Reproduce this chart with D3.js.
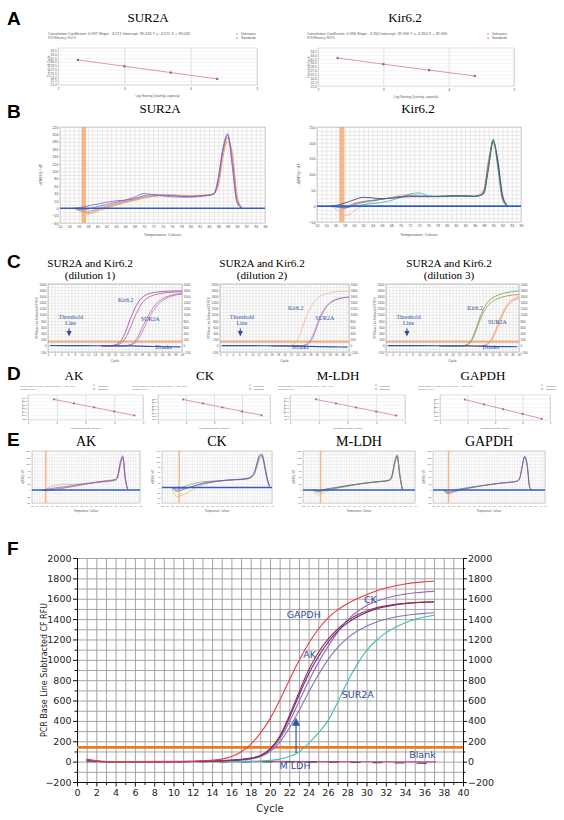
<!DOCTYPE html>
<html><head><meta charset="utf-8">
<script src="https://cdn.jsdelivr.net/npm/d3@7"></script>
<style>html,body{margin:0;padding:0;background:#fff}svg{display:block}</style>
</head><body>
<script>
// ================= DATA =================
// Panel A – standard curves
const aLogQty = [2.3, 3.0, 3.7, 4.4];
const aSur2aCt = [30.8, 28.3, 25.8, 23.3];
const aKir62Ct = [31.9, 29.5, 27.2, 24.9];
const aXTicks = [2, 3, 4, 5];
const aYTicks = [21, 22.5, 24, 25.5, 27, 28.5, 30, 31.5, 33, 34.5];
const aSur2aHeader = ['Correlation Coefficient: 0.997   Slope: -3.571   Intercept: 39.033   Y = -3.571 X + 39.033', 'PCR Efficiency: 90.6 %'];
const aKir62Header = ['Correlation Coefficient: 0.996   Slope: -3.350   Intercept: 39.596   Y = -3.350 X + 39.596', 'PCR Efficiency: 98.8 %'];
const stdLegend = ['Unknowns', 'Standards'];

// Panel B – melt curves
const bSurTemp = [55,56,57,58,59,60,62,64,66,68,70,72,74,76,78,80,82,84,85,86,87,88,89,90,91];
const bSurPurple = [0,1,3,6,9,11,16,20,22,26,34,37,36,34,32,31,33,35,38,80,160,198,110,15,1];
const bSurPink   = [0,-3,-6,-8,-6,-2,6,13,19,25,31,34,35,35,34,33,34,36,38,70,150,190,135,25,2];
const bSurOrange = [0,-5,-10,-16,-13,-8,0,8,15,21,27,32,35,36,35,34,35,37,40,60,140,180,150,35,3];
const bSurSlate  = [0,-2,-3,-2,1,4,10,16,22,30,40,36,33,31,30,30,32,35,38,85,165,202,120,18,1];
const bSurOlive  = [0,-6,-10,-12,-9,-4,3,11,17,23,29,33,35,35,34,33,34,36,39,75,155,192,140,28,2];
const bKirTemp = [55,56,57,58,59,60,62,64,66,68,70,72,74,76,78,80,82,84,86,87,88,89,90,91,92,93];
const bKirGreen = [0,0,-3,-6,-2,4,12,18,22,26,30,33,32,31,31,32,33,32,31,33,45,130,212,120,20,1];
const bKirNavy  = [0,2,5,10,15,20,28,26,24,25,28,30,30,30,31,32,33,32,31,33,40,120,205,140,30,2];
const bKirPink  = [0,-8,-18,-30,-26,-15,2,14,22,28,34,38,36,33,32,32,33,33,32,38,55,150,195,150,40,3];
const bKirRed   = [0,0,-2,-4,2,8,15,18,22,26,30,32,31,30,30,31,32,32,31,35,50,140,205,135,32,2];
const bKirCyan  = [0,-3,-5,-6,-3,0,5,8,12,18,28,38,42,33,30,30,31,32,31,33,42,125,208,145,38,3];
const bSurYTicks = [-40,-20,0,20,40,60,80,100,120,140,160,180,200,220];
const bKirYTicks = [-50,0,50,100,150,200,250];
const meltXTicks = [52,54,56,58,60,62,64,66,68,70,72,74,76,78,80,82,84,86,88,90,92,94,96];

// Panel C – amplification curves (three dilutions)
const cCycles = [16,17,18,19,20,21,22,23,24,25,26,27,28,29,30,31,32,33,34,35,36,37,38,39,40];
const c1Kir62a = [0,0,3,10,30,80,200,420,700,980,1230,1420,1550,1630,1680,1710,1730,1745,1755,1762,1768,1772,1775,1777,1778];
const c1Kir62b = [0,0,0,5,15,40,100,230,440,700,960,1190,1370,1490,1570,1620,1655,1680,1700,1715,1725,1732,1738,1742,1745];
const c1Sur2aA = [0,0,0,0,0,0,0,5,20,60,150,330,560,780,990,1170,1320,1430,1510,1570,1610,1640,1660,1675,1685];
const c1Sur2aB = [0,0,0,0,0,0,0,0,10,35,95,220,420,650,870,1060,1220,1350,1450,1520,1570,1610,1640,1660,1675];
const c2Kir62  = [0,0,0,0,0,5,20,70,200,430,720,1000,1230,1400,1520,1600,1650,1690,1715,1735,1748,1757,1763,1767,1770];
const c2Sur2aA = [0,0,0,0,0,0,0,0,0,0,10,40,130,320,600,880,1100,1260,1370,1440,1490,1525,1550,1565,1575];
const c2Sur2aB = [0,0,0,0,0,0,0,0,0,0,20,70,190,400,680,940,1140,1290,1390,1460,1505,1540,1560,1575,1585];
const c3Kir62a = [0,0,0,0,0,0,0,5,25,90,260,540,850,1120,1320,1460,1550,1610,1655,1690,1715,1735,1752,1765,1775];
const c3Kir62b = [0,0,0,0,0,0,0,3,18,70,210,460,750,1010,1200,1340,1430,1500,1545,1580,1605,1625,1640,1650,1655];
const c3Sur2aA = [0,0,0,0,0,0,0,0,0,0,0,0,0,10,40,120,280,520,800,1060,1260,1400,1490,1550,1590];
const c3Sur2aB = [0,0,0,0,0,0,0,0,0,0,0,0,0,5,25,90,230,450,720,980,1190,1340,1440,1500,1540];
const cBlankCycles = [0.5,10,20,25,30,35,39.5];
const c1Blank = [10,5,0,-5,-20,-30,-35];
const c2Blank = [8,4,0,-10,-25,-35,-40];
const c3Blank = [8,4,0,-5,-15,-25,-30];
const cThreshold = 135;
const ampYTicks = [-200,0,200,400,600,800,1000,1200,1400,1600,1800,2000];
const ampXTicks = [0,2,4,6,8,10,12,14,16,18,20,22,24,26,28,30,32,34,36,38,40];

// Panel D – standard curves of the reference genes
const dLogQty = [1.9, 2.6, 3.3, 4.0, 4.7];
const dAkCt    = [33.0, 30.7, 28.4, 26.1, 23.8];
const dCkCt    = [32.4, 30.1, 27.8, 25.5, 23.2];
const dMldhCt  = [34.0, 31.7, 29.4, 27.1, 24.8];
const dGapdhCt = [30.6, 28.3, 26.0, 23.7, 21.4];
const dXTicks = [1, 2, 3, 4, 5];
const dAkHeader    = ['Correlation Coefficient: 0.998  Slope: -3.302  Intercept: 39.270  Y = -3.302 X + 39.270', 'PCR Efficiency: 100.8 %'];
const dCkHeader    = ['Correlation Coefficient: 0.997  Slope: -3.318  Intercept: 38.710  Y = -3.318 X + 38.710', 'PCR Efficiency: 100.2 %'];
const dMldhHeader  = ['Correlation Coefficient: 0.999  Slope: -3.296  Intercept: 40.260  Y = -3.296 X + 40.260', 'PCR Efficiency: 101.1 %'];
const dGapdhHeader = ['Correlation Coefficient: 0.998  Slope: -3.310  Intercept: 36.890  Y = -3.310 X + 36.890', 'PCR Efficiency: 100.5 %'];
const dLegend = ['Unknown', 'Standard'];

// Panel E – melt curves of the reference genes
const eAkTemp = [56,58,60,63,66,69,72,75,78,81,84,86,87,88,89,90,91];
const eAkPurple = [0,3,6,10,14,18,22,26,30,33,36,40,55,105,132,45,2];
const eAkPink   = [0,-2,2,6,10,15,20,25,30,34,38,42,60,110,128,50,3];
const eAkOlive  = [-3,5,15,20,22,22,24,26,28,30,33,36,50,95,120,40,2];
const eAkBlue   = [0,-3,0,4,9,14,19,24,29,33,36,39,52,100,125,42,2];
const eCkTemp = [56,58,60,63,66,69,72,75,78,81,84,86,88,89,90,91,92,93,94,95];
const eCkPurple = [0,-15,-10,0,10,18,22,25,28,30,32,35,45,60,95,125,128,90,40,5];
const eCkYellow = [-5,-35,-30,-15,0,12,20,25,28,30,32,34,42,55,85,115,120,85,35,5];
const eCkGreen  = [0,-10,0,10,18,22,24,26,28,29,30,32,40,52,80,110,118,80,30,3];
const eCkBlue   = [0,-5,-5,0,8,15,20,24,27,30,31,33,42,58,90,120,125,85,35,4];
const eMldhTemp = [56,58,60,63,66,69,72,75,78,81,84,86,87,88,89,90,91];
const eMldhGreen  = [0,-5,0,5,10,15,20,25,28,31,34,38,55,105,135,60,2];
const eMldhPurple = [0,-3,2,7,12,17,21,25,29,32,35,39,58,110,132,55,2];
const eMldhRed    = [0,-8,-3,3,9,14,19,24,28,31,34,37,52,100,128,65,3];
const eMldhYellow = [-5,-20,-10,0,8,14,19,24,28,31,33,37,50,98,125,60,3];
const eGapdhTemp = [56,58,60,63,66,69,72,75,78,81,84,85,86,87,88,89,90,91];
const eGapdhPurple = [0,-10,-5,3,8,13,18,22,26,29,32,35,45,90,130,95,10,0];
const eGapdhGreen  = [0,-5,0,5,10,14,18,22,26,29,32,34,42,85,128,100,12,0];
const eGapdhRed    = [0,-15,-8,0,6,12,17,21,25,28,31,34,44,88,125,90,8,0];

// Panel F – amplification curves
const fCycles = [1,2,3,4,5,6,7,8,9,10,11,12,13,14,15,16,17,18,19,20,21,22,23,24,25,26,27,28,29,30,31,32,33,34,35,36,37];
const fGapdh = [25,8,2,0,0,0,0,0,0,0,2,4,8,14,25,50,95,170,280,420,600,800,990,1160,1300,1410,1490,1550,1600,1640,1675,1705,1728,1745,1758,1766,1772];
const fAk    = [20,5,0,0,0,0,0,0,0,0,0,2,4,6,10,15,22,35,60,120,250,450,680,900,1070,1200,1300,1380,1440,1480,1510,1530,1545,1555,1562,1567,1571];
const fDark  = [18,4,0,0,0,0,0,0,0,0,0,1,3,5,8,13,20,32,58,125,240,430,650,860,1030,1170,1280,1360,1420,1465,1500,1522,1540,1552,1560,1565,1568];
const fCk    = [15,3,0,0,0,0,0,0,0,0,0,1,3,5,8,12,18,30,55,110,220,390,590,790,970,1130,1270,1390,1470,1530,1575,1605,1630,1645,1658,1666,1672];
const fMldh  = [10,2,0,0,0,0,0,0,0,0,0,1,2,4,7,10,15,25,48,100,190,330,500,680,850,1000,1120,1210,1280,1330,1370,1398,1420,1436,1448,1456,1462];
const fSur2a = [20,5,0,0,0,0,0,0,0,0,0,0,0,0,0,0,0,0,5,12,25,50,95,180,280,400,580,780,950,1090,1190,1265,1320,1365,1395,1420,1438];
const fBlankPinkCycles = [5.5,10,15,20,25,30,35,37.2];
const fBlankPink = [0,2,3,2,1,-1,-2,-2];
const fBlankGrayCycles = [1,5.5,26,29,32,35,37.2];
const fBlankGray = [0,0,-5,-8,-12,-15,-18];
const fThreshold = 140;
const fYTicks = [-200,0,200,400,600,800,1000,1200,1400,1600,1800,2000];
const fXTicks = [0,2,4,6,8,10,12,14,16,18,20,22,24,26,28,30,32,34,36,38,40];
const fLabels = ['GAPDH','CK','AK','SUR2A','M LDH','Blank'];
const fLabelCycle = [23.5, 30.4, 24.1, 29.1, 22.6, 35.8];
const fLabelValue = [1445, 1595, 1050, 660, -35, 70];
const fArrowCycle = 22.7, fArrowFrom = 85, fArrowTo = 430;

// ================= DRAWING =================
const SERIF = "'Liberation Serif','Times New Roman',serif";
const SANS = "'Liberation Sans',Arial,sans-serif";
const VERD = "'DejaVu Sans',Verdana,sans-serif";
const svg = d3.select('body').append('svg').attr('width', 564).attr('height', 820);
svg.append('rect').attr('width', 564).attr('height', 820).attr('fill', '#fff');

function txt(g, x, y, s, o = {}) {
  const t = g.append('text').attr('x', x).attr('y', y).text(s)
    .attr('font-family', o.ff || SERIF).attr('font-size', o.fs || 13)
    .attr('fill', o.fill || '#000').attr('text-anchor', o.anchor || 'middle');
  if (o.fw) t.attr('font-weight', o.fw);
  if (o.len) t.attr('textLength', o.len).attr('lengthAdjust', 'spacingAndGlyphs');
  if (o.rot) t.attr('transform', `rotate(${o.rot},${x},${y})`);
  return t;
}
function gridX(g, x, vals, yTop, yBot, color, sw) {
  const a = g.append('g').attr('transform', `translate(0,${yBot})`)
    .call(d3.axisBottom(x).tickValues(vals).tickSize(-(yBot - yTop)).tickFormat(''));
  a.select('.domain').remove();
  a.selectAll('line').attr('stroke', color).attr('stroke-width', sw);
}
function gridY(g, y, vals, xL, xR, color, sw) {
  const a = g.append('g').attr('transform', `translate(${xL},0)`)
    .call(d3.axisLeft(y).tickValues(vals).tickSize(-(xR - xL)).tickFormat(''));
  a.select('.domain').remove();
  a.selectAll('line').attr('stroke', color).attr('stroke-width', sw);
}
function labelsX(g, x, vals, yPos, fs, ff, fill, fmt) {
  const a = g.append('g').attr('transform', `translate(0,${yPos})`)
    .call(d3.axisBottom(x).tickValues(vals).tickSize(0).tickPadding(0).tickFormat(fmt || d3.format('d')));
  a.select('.domain').remove();
  a.selectAll('text').attr('font-size', fs).attr('font-family', ff).attr('fill', fill);
}
function labelsY(g, y, vals, xPos, side, fs, ff, fill, fmt) {
  const gen = side === 'left' ? d3.axisLeft(y) : d3.axisRight(y);
  const a = g.append('g').attr('transform', `translate(${xPos},0)`)
    .call(gen.tickValues(vals).tickSize(0).tickPadding(0).tickFormat(fmt || d3.format('d')));
  a.select('.domain').remove();
  a.selectAll('text').attr('font-size', fs).attr('font-family', ff).attr('fill', fill);
}
function frame(g, x0, y0, x1, y1, color, sw) {
  g.append('rect').attr('x', x0).attr('y', y0).attr('width', x1 - x0).attr('height', y1 - y0)
    .attr('fill', 'none').attr('stroke', color).attr('stroke-width', sw);
}

// ---------- standard curve ----------
function stdCurve(o) {
  const g = svg.append('g');
  const x = d3.scaleLinear().domain(o.xDom).range([o.x0, o.x1]);
  const y = d3.scaleLinear().domain(o.yDom).range([o.y1, o.y0]);
  o.head.forEach((t, i) => txt(g, o.hx, o.hy + i * o.hdy, t, {ff: SANS, fs: o.hfs, anchor: 'start', fill: '#555', len: o.hlen[i]}));
  o.leg.forEach((t, i) => {
    const ly = o.hy + i * o.hdy;
    if (i === 0) {
      g.append('path').attr('d', `M${o.lx - 0.9},${ly - 2.1}l1.8,1.8M${o.lx + 0.9},${ly - 2.1}l-1.8,1.8`).attr('stroke', '#d44').attr('stroke-width', 0.4);
    } else {
      g.append('circle').attr('cx', o.lx).attr('cy', ly - 1.2).attr('r', 0.8).attr('fill', 'none').attr('stroke', '#d44').attr('stroke-width', 0.4);
    }
    txt(g, o.lx + 4, ly, t, {ff: SANS, fs: o.lfs || o.hfs, anchor: 'start', fill: '#555', len: o.llen});
  });
  g.append('rect').attr('x', o.x0).attr('y', o.y0).attr('width', o.x1 - o.x0).attr('height', o.y1 - o.y0).attr('fill', '#fff');
  gridY(g, y, o.yTicks, o.x0, o.x1, '#e6e6e6', 0.4);
  gridX(g, x, o.xTicks, o.y0, o.y1, '#c6c6c6', 0.5);
  frame(g, o.x0, o.y0, o.x1, o.y1, '#c0c0c0', 0.5);
  labelsY(g, y, o.yTicks, o.x0 - 1.2, 'left', o.tfs, SANS, '#555', d3.format('.1f'));
  labelsX(g, x, o.xTicks, o.y1 + 2.5, o.tfs + 0.3, SANS, '#555', d3.format('d'));
  txt(g, (o.x0 + o.x1) / 2, o.xtY, o.xTitle, {ff: SANS, fs: o.tfs, fill: '#555', len: o.xlen});
  txt(g, o.ytX, (o.y0 + o.y1) / 2, o.yTitle, {ff: SANS, fs: o.tfs, fill: '#555', rot: -90, len: o.ylen});
  const line = d3.line().x((d, i) => x(o.xs[i])).y(d => y(d));
  g.append('path').attr('d', line(o.ys)).attr('fill', 'none').attr('stroke', '#e06a6a').attr('stroke-width', 0.7);
  g.selectAll(null).data(o.ys).join('rect')
    .attr('x', (d, i) => x(o.xs[i]) - o.pt / 2).attr('y', d => y(d) - o.pt / 2)
    .attr('width', o.pt).attr('height', o.pt).attr('fill', '#6b5a80').attr('opacity', 0.85);
}

// ---------- melt curve ----------
function melt(o) {
  const g = svg.append('g');
  const x = d3.scaleLinear().domain([52, 96]).range([o.x0, o.x1]);
  const y = d3.scaleLinear().domain(o.yDom).range([o.y1, o.y0]);
  g.append('rect').attr('x', o.x0).attr('y', o.y0).attr('width', o.x1 - o.x0).attr('height', o.y1 - o.y0).attr('fill', '#fff');
  gridX(g, x, d3.range(52, 96.01, 1), o.y0, o.y1, o.gc, o.gw);
  gridY(g, y, d3.range(o.yDom[0], o.yDom[1] + 0.01, o.gstep), o.x0, o.x1, o.gc, o.gw);
  frame(g, o.x0, o.y0, o.x1, o.y1, '#a8a8a8', 0.5);
  g.append('rect').attr('x', x(o.band[0])).attr('y', o.y0).attr('width', x(o.band[1]) - x(o.band[0]))
    .attr('height', o.y1 - o.y0).attr('fill', '#f4a366').attr('opacity', 0.75);
  const line = d3.line().x((d, i) => x(o.temps[i])).y(d => y(d)).curve(d3.curveMonotoneX);
  o.series.forEach(s => g.append('path').attr('d', line(s.v)).attr('fill', 'none')
    .attr('stroke', s.c).attr('stroke-width', o.lw).attr('opacity', 0.9));
  g.append('line').attr('x1', o.x0).attr('x2', o.x1).attr('y1', y(0)).attr('y2', y(0))
    .attr('stroke', '#2f5ec4').attr('stroke-width', o.bw);
  labelsY(g, y, o.yTicks, o.x0 - 1.5, 'left', o.tfs, SANS, '#555');
  labelsX(g, x, meltXTicks, o.y1 + 2, o.tfs * 0.95, SANS, '#555');
  txt(g, (o.x0 + o.x1) / 2, o.xtY, 'Temperature, Celsius', {ff: SANS, fs: o.tfs * 1.05, fill: '#555'});
  txt(g, o.ytX, (o.y0 + o.y1) / 2, '-d(RFU) / dT', {ff: SANS, fs: o.tfs * 1.05, fill: '#555', rot: -90});
}

// ---------- amplification (panel C) ----------
function amp(o) {
  const g = svg.append('g');
  const x = d3.scaleLinear().domain([0, 40]).range([o.x0, o.x1]);
  const y = d3.scaleLinear().domain([-200, 2000]).range([o.y1, o.y0]);
  g.append('rect').attr('x', o.x0).attr('y', o.y0).attr('width', o.x1 - o.x0).attr('height', o.y1 - o.y0).attr('fill', '#fff');
  gridX(g, x, d3.range(0, 40.01, 1), o.y0, o.y1, '#d2d2d2', 0.4);
  gridY(g, y, d3.range(-200, 2000.1, 100), o.x0, o.x1, '#d2d2d2', 0.4);
  frame(g, o.x0, o.y0, o.x1, o.y1, '#888', 0.5);
  g.append('line').attr('x1', o.x0).attr('x2', o.x1).attr('y1', y(cThreshold)).attr('y2', y(cThreshold))
    .attr('stroke', '#f4a26e').attr('stroke-width', 1.6);
  const line = d3.line().x((d, i) => x(cCycles[i])).y(d => y(d)).curve(d3.curveMonotoneX);
  o.series.forEach(s => g.append('path').attr('d', line(s.v)).attr('fill', 'none').attr('stroke', s.c).attr('stroke-width', 0.8));
  const bl = d3.line().x((d, i) => x(cBlankCycles[i])).y(d => y(d)).curve(d3.curveMonotoneX);
  g.append('path').attr('d', bl(o.blank)).attr('fill', 'none').attr('stroke', '#2858a8').attr('stroke-width', 1.2);
  labelsY(g, y, ampYTicks, o.x0 - 1.5, 'left', 3.2, SANS, '#555');
  labelsY(g, y, ampYTicks, o.x1 + 1.5, 'right', 3.2, SANS, '#555');
  labelsX(g, x, ampXTicks, o.y1 + 2, 2.9, SANS, '#555');
  txt(g, (o.x0 + o.x1) / 2, o.y1 + 10, 'Cycle', {ff: SANS, fs: 3.4, fill: '#555'});
  txt(g, o.x0 - 10, (o.y0 + o.y1) / 2, 'PCR Base Line Subtracted CF RFU', {ff: SANS, fs: 2.6, fill: '#555', rot: -90});
  const lc = '#3050a0';
  txt(g, x(o.kir[0]), y(o.kir[1]), 'Kir6.2', {fs: 6, fill: lc});
  txt(g, x(o.sur[0]), y(o.sur[1]), 'SUR2A', {fs: 6, fill: lc});
  txt(g, x(o.blk[0]), y(o.blk[1]), 'Blanks', {fs: 6, fill: lc});
  txt(g, x(6.8), y(880), 'Threshold', {fs: 6, fill: lc});
  txt(g, x(6.8), y(680), 'Line', {fs: 6, fill: lc});
  const ax = x(6.3), ay = y(300);
  g.append('path').attr('d', `M${ax - 2.6},${ay - 5.5}L${ax + 2.6},${ay - 5.5}L${ax},${ay}Z`).attr('fill', '#2c4fa8');
  g.append('line').attr('x1', ax).attr('x2', ax).attr('y1', ay - 8).attr('y2', ay - 5).attr('stroke', '#2c4fa8').attr('stroke-width', 1.2);
}

// ================= Panel letters & titles =================
const letters = [['A', 25], ['B', 118], ['C', 268], ['D', 380], ['E', 446], ['F', 555]];
letters.forEach(l => txt(svg, 7, l[1], l[0], {ff: SANS, fs: 19, fw: 'bold', anchor: 'start'}));

// ---- A ----
txt(svg, 148, 22, 'SUR2A', {fs: 13});
txt(svg, 405, 22, 'Kir6.2', {fs: 13});
stdCurve({x0: 58, x1: 257, y0: 48, y1: 85, xDom: [2, 5], yDom: [20.9, 35.5], xTicks: aXTicks, yTicks: aYTicks,
  xs: aLogQty, ys: aSur2aCt, head: aSur2aHeader, hx: 48, hy: 35, hdy: 4.4, hfs: 3.4, hlen: [142, 28],
  leg: stdLegend, lx: 237, llen: 15, tfs: 3.2, xtY: 97, ytX: 50, xTitle: 'Log Starting Quantity, copies/µl',
  yTitle: 'Threshold Cycle', xlen: 44, ylen: 22, pt: 2.2});
stdCurve({x0: 318, x1: 514, y0: 48, y1: 86, xDom: [2, 5], yDom: [21.0, 35.8], xTicks: aXTicks, yTicks: aYTicks,
  xs: aLogQty, ys: aKir62Ct, head: aKir62Header, hx: 307, hy: 35, hdy: 4.4, hfs: 3.4, hlen: [140, 28],
  leg: stdLegend, lx: 488, llen: 15, tfs: 3.2, xtY: 98, ytX: 310, xTitle: 'Log Starting Quantity, copies/µl',
  yTitle: 'Threshold Cycle', xlen: 44, ylen: 22, pt: 2.2});

// ---- B ----
txt(svg, 160, 113, 'SUR2A', {fs: 13});
txt(svg, 418, 113, 'Kir6.2', {fs: 13});
melt({x0: 60, x1: 265, y0: 127, y1: 223, yDom: [-40, 220], gstep: 10, yTicks: bSurYTicks, gc: '#d6cdd0', gw: 0.45,
  band: [56.6, 57.6], temps: bSurTemp, lw: 0.9, bw: 1.6, tfs: 3.8, xtY: 236, ytX: 42,
  series: [{v: bSurOlive, c: '#a0a060'}, {v: bSurOrange, c: '#e8a040'}, {v: bSurPink, c: '#e48aa8'},
           {v: bSurSlate, c: '#6878b8'}, {v: bSurPurple, c: '#8a58c0'}]});
melt({x0: 317, x1: 521, y0: 127, y1: 222, yDom: [-50, 250], gstep: 12.5, yTicks: bKirYTicks, gc: '#d6cdd0', gw: 0.45,
  band: [56.8, 57.9], temps: bKirTemp, lw: 0.9, bw: 1.6, tfs: 3.8, xtY: 236, ytX: 300,
  series: [{v: bKirPink, c: '#f2a8c0'}, {v: bKirCyan, c: '#40a8d8'}, {v: bKirRed, c: '#c84848'},
           {v: bKirNavy, c: '#303088'}, {v: bKirGreen, c: '#2f9e6a'}]});

// ---- C ----
const cTitles = [[90, 'dilution 1'], [262, 'dilution 2'], [449, 'dilution 3']];
cTitles.forEach(t => { txt(svg, t[0], 267, 'SUR2A and Kir6.2', {fs: 11.2}); txt(svg, t[0], 279, '(' + t[1] + ')', {fs: 11.2}); });
amp({x0: 48, x1: 182, y0: 284, y1: 352, blank: c1Blank, kir: [23.2, 1420], sur: [30.5, 800], blk: [34.5, -110],
  series: [{v: c1Sur2aB, c: '#d070a8'}, {v: c1Sur2aA, c: '#9c6cc4'}, {v: c1Kir62b, c: '#c4508c'}, {v: c1Kir62a, c: '#8a4ca8'}]});
amp({x0: 220, x1: 349, y0: 284, y1: 352, blank: c2Blank, kir: [23.5, 1150], sur: [32.5, 850], blk: [25, -110],
  series: [{v: c2Sur2aB, c: '#dc92bc'}, {v: c2Sur2aA, c: '#8c6cb4'}, {v: c2Kir62, c: '#f2b490'}]});
amp({x0: 386, x1: 519, y0: 284, y1: 352, blank: c3Blank, kir: [26.8, 1150], sur: [33.5, 700], blk: [31.5, -110],
  series: [{v: c3Sur2aB, c: '#f29090'}, {v: c3Sur2aA, c: '#f2a448'}, {v: c3Kir62b, c: '#b08458'}, {v: c3Kir62a, c: '#58a848'}]});

// ---- D ----
const dDefs = [
  {t: 'AK', tc: 74, x0: 28, x1: 143, ys: dAkCt, yDom: [21.2, 35.5], head: dAkHeader, hx: 20, lx: 94},
  {t: 'CK', tc: 205, x0: 158, x1: 270, ys: dCkCt, yDom: [20.5, 35.0], head: dCkHeader, hx: 132, lx: 250},
  {t: 'M-LDH', tc: 338, x0: 290, x1: 405, ys: dMldhCt, yDom: [22.3, 36.5], head: dMldhHeader, hx: 278, lx: 376},
  {t: 'GAPDH', tc: 483, x0: 440, x1: 550, ys: dGapdhCt, yDom: [20.8, 32.8], head: dGapdhHeader, hx: 418, lx: 542}
];
dDefs.forEach(d => {
  txt(svg, d.tc, 380, d.t, {fs: 13});
  stdCurve({x0: d.x0, x1: d.x1, y0: 395, y1: 420, xDom: [1, 5], yDom: d.yDom, xTicks: dXTicks,
    yTicks: d3.range(Math.ceil(d.yDom[0]), d.yDom[1], 2), xs: dLogQty, ys: d.ys, head: d.head, hx: d.hx, hy: 386.5,
    hdy: 3.6, hfs: 1.5, lfs: 2.3, hlen: [55, 16], leg: dLegend, lx: d.lx, llen: 10, tfs: 2.4, xtY: 429, ytX: d.x0 - 5,
    xTitle: 'Log Starting Quantity, copies/µl', yTitle: 'Threshold Cycle', xlen: 30, ylen: 16, pt: 1.8});
});

// ---- E ----
const eDefs = [
  {t: 'AK', tc: 86, x0: 32, x1: 140, temps: eAkTemp, yDom: [-50, 150], yTicks: [-50,-25,0,25,50,75,100,125,150], band: [57.3, 57.9],
   series: [{v: eAkOlive, c: '#b8b860'}, {v: eAkBlue, c: '#5a78c8'}, {v: eAkPink, c: '#e070a0'}, {v: eAkPurple, c: '#8050b8'}]},
  {t: 'CK', tc: 217, x0: 162, x1: 272, temps: eCkTemp, yDom: [-60, 140], yTicks: [-60,-40,-20,0,20,40,60,80,100,120,140], band: [58.6, 59.2],
   series: [{v: eCkYellow, c: '#e8b040'}, {v: eCkGreen, c: '#58a878'}, {v: eCkBlue, c: '#5a70c0'}, {v: eCkPurple, c: '#8048b0'}]},
  {t: 'M-LDH', tc: 359, x0: 303, x1: 415, temps: eMldhTemp, yDom: [-50, 150], yTicks: [-50,-25,0,25,50,75,100,125,150], band: [58.6, 59.2],
   series: [{v: eMldhYellow, c: '#d8c050'}, {v: eMldhRed, c: '#d06070'}, {v: eMldhPurple, c: '#7050b0'}, {v: eMldhGreen, c: '#3c9a6c'}]},
  {t: 'GAPDH', tc: 489, x0: 433, x1: 545, temps: eGapdhTemp, yDom: [-50, 150], yTicks: [-50,-25,0,25,50,75,100,125,150], band: [57.8, 58.4],
   series: [{v: eGapdhRed, c: '#d06070'}, {v: eGapdhGreen, c: '#4ca070'}, {v: eGapdhPurple, c: '#7048b0'}]}
];
eDefs.forEach(e => {
  txt(svg, e.tc, 446, e.t, {fs: 14});
  melt({x0: e.x0, x1: e.x1, y0: 451, y1: 503, yDom: e.yDom, gstep: 12.5, yTicks: e.yTicks, gc: '#ddd5d8', gw: 0.35,
    band: e.band, temps: e.temps, lw: 0.75, bw: 1.5, tfs: 2.5, xtY: 512, ytX: e.x0 - 8, series: e.series});
});

// ---- F ----
(function () {
  const g = svg.append('g');
  const x = d3.scaleLinear().domain([0, 40]).range([77, 463]);
  const y = d3.scaleLinear().domain([-200, 2000]).range([782, 558]);
  gridX(g, x, d3.range(0, 40.01, 1), 558, 782, '#9a9a9a', 0.9);
  gridY(g, y, d3.range(-200, 2000.1, 100), 77, 463, '#9a9a9a', 0.9);
  const styleAx = (a) => { a.selectAll('text').attr('font-size', 9.5).attr('font-family', VERD).attr('fill', '#222');
    a.selectAll('line,path').attr('stroke', '#111'); };
  styleAx(g.append('g').attr('transform', 'translate(77,0)')
    .call(d3.axisLeft(y).tickValues(fYTicks).tickSize(4).tickSizeOuter(0).tickPadding(1.5).tickFormat(d3.format('d'))));
  styleAx(g.append('g').attr('transform', 'translate(77,0)')
    .call(d3.axisLeft(y).tickValues(d3.range(-100, 2000, 200)).tickSize(2.5).tickSizeOuter(0).tickFormat('')));
  styleAx(g.append('g').attr('transform', 'translate(463,0)')
    .call(d3.axisRight(y).tickValues(fYTicks).tickSize(4).tickSizeOuter(0).tickPadding(1).tickFormat(d3.format('d'))));
  styleAx(g.append('g').attr('transform', 'translate(463,0)')
    .call(d3.axisRight(y).tickValues(d3.range(-100, 2000, 200)).tickSize(2.5).tickSizeOuter(0).tickFormat('')));
  styleAx(g.append('g').attr('transform', 'translate(0,782)')
    .call(d3.axisBottom(x).tickValues(fXTicks).tickSize(4.5).tickSizeOuter(0).tickPadding(2.5).tickFormat(d3.format('d'))));
  styleAx(g.append('g').attr('transform', 'translate(0,782)')
    .call(d3.axisBottom(x).tickValues(d3.range(1, 40, 2)).tickSize(3).tickSizeOuter(0).tickFormat('')));
  g.append('line').attr('x1', 77).attr('x2', 463).attr('y1', y(fThreshold)).attr('y2', y(fThreshold))
    .attr('stroke', '#f07a1a').attr('stroke-width', 2.6);
  const lp = d3.line().x((d, i) => x(fBlankPinkCycles[i])).y(d => y(d));
  g.append('path').attr('d', lp(fBlankPink)).attr('fill', 'none').attr('stroke', '#d0448c').attr('stroke-width', 1.2);
  const lg = d3.line().x((d, i) => x(fBlankGrayCycles[i])).y(d => y(d));
  g.append('path').attr('d', lg(fBlankGray)).attr('fill', 'none').attr('stroke', '#555').attr('stroke-width', 1.1).attr('stroke-dasharray', '10,12');
  const lf = d3.line().x((d, i) => x(fCycles[i])).y(d => y(d)).curve(d3.curveMonotoneX);
  const fSeries = [[fSur2a, '#3cbfb6'], [fMldh, '#8474bc'], [fCk, '#9a68c8'], [fDark, '#5c2c84'], [fAk, '#a02c4c'], [fGapdh, '#ea3c46']];
  fSeries.forEach(s => g.append('path').attr('d', lf(s[0])).attr('fill', 'none').attr('stroke', s[1]).attr('stroke-width', 1.1));
  const axp = x(fArrowCycle);
  g.append('line').attr('x1', axp).attr('x2', axp).attr('y1', y(fArrowFrom)).attr('y2', y(fArrowTo) + 6)
    .attr('stroke', '#2c5aa8').attr('stroke-width', 1.2);
  g.append('path').attr('d', `M${axp - 4},${y(fArrowTo) + 8}L${axp + 4},${y(fArrowTo) + 8}L${axp},${y(fArrowTo)}Z`).attr('fill', '#2c5aa8');
  fLabels.forEach((t, i) => txt(g, x(fLabelCycle[i]), y(fLabelValue[i]) + 3.5, t, {ff: VERD, fs: 9.5, fill: '#2f4e9e'}));
  txt(g, 270, 812, 'Cycle', {ff: VERD, fs: 10, fill: '#222'});
  txt(g, 47, 670, 'PCR Base Line Subtracted CF RFU', {ff: VERD, fs: 9.5, fill: '#222', rot: -90, len: 134});
})();
</script>
</body></html>
